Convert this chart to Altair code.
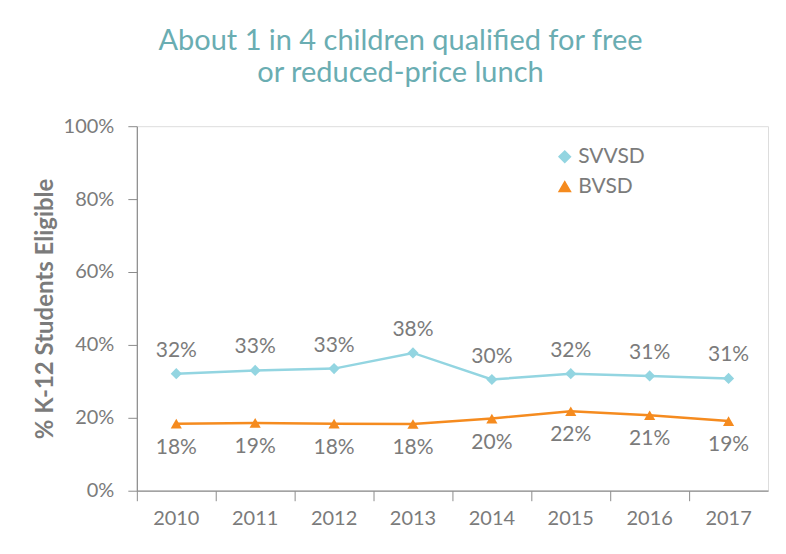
import altair as alt
import pandas as pd

years = ["2010", "2011", "2012", "2013", "2014", "2015", "2016", "2017"]
svvsd = [32.1, 33.0, 33.5, 37.8, 30.5, 32.1, 31.5, 30.8]
bvsd = [18.4, 18.6, 18.4, 18.3, 19.8, 21.8, 20.7, 19.1]
svvsd_labels = ["32%", "33%", "33%", "38%", "30%", "32%", "31%", "31%"]
bvsd_labels = ["18%", "19%", "18%", "18%", "20%", "22%", "21%", "19%"]
series = ["SVVSD", "BVSD"]
colors = ["#93d5e1", "#f58b1f"]
shapes = ["diamond", "triangle-up"]

rows = []
for y, v, l in zip(years, svvsd, svvsd_labels):
    rows.append({"year": y, "district": "SVVSD", "value": v, "label": l})
for y, v, l in zip(years, bvsd, bvsd_labels):
    rows.append({"year": y, "district": "BVSD", "value": v, "label": l})
df = pd.DataFrame(rows)

GRAY = "#7b7b7b"
FONT = "Lato"

x = alt.X(
    "year:O",
    scale=alt.Scale(type="band", paddingInner=0, paddingOuter=0),
    axis=alt.Axis(
        title=None, labelAngle=0, bandPosition=0, tickSize=10, labelPadding=8,
        labelFontSize=20, labelColor=GRAY, labelFont=FONT,
        domainColor="#8c8c8c", tickColor="#8c8c8c", domainWidth=1.2,
    ),
)
y = alt.Y(
    "value:Q",
    scale=alt.Scale(domain=[0, 100]),
    axis=alt.Axis(
        title="% K-12 Students Eligible", values=[0, 20, 40, 60, 80, 100],
        labelExpr="datum.value + '%'", grid=False, tickSize=9, labelPadding=14,
        labelFontSize=20, labelColor=GRAY, labelFont=FONT,
        titleFontSize=24, titleColor=GRAY, titleFont=FONT, titleFontWeight="bold",
        titlePadding=6, domainColor="#8c8c8c", tickColor="#8c8c8c", domainWidth=1.2,
    ),
)

color_scale = alt.Scale(domain=series, range=colors)
shape_scale = alt.Scale(domain=series, range=shapes)
legend = alt.Legend(
    title=None, orient="none", legendX=418, legendY=20, labelFontSize=21,
    labelColor=GRAY, labelFont=FONT, symbolSize=130, rowPadding=8, labelOffset=3,
)

base = alt.Chart(df).encode(x=x, y=y)

line = base.mark_line(strokeWidth=2.5).encode(
    color=alt.Color("district:N", scale=color_scale, legend=legend),
    detail="district:N",
)
pts = base.mark_point(filled=True, size=125, opacity=1).encode(
    color=alt.Color("district:N", scale=color_scale, legend=legend),
    shape=alt.Shape("district:N", scale=shape_scale, legend=legend),
)
txt_sv = base.transform_filter(alt.datum.district == "SVVSD").mark_text(
    dy=-23, fontSize=21, color=GRAY, font=FONT
).encode(text="label:N")
txt_bv = base.transform_filter(alt.datum.district == "BVSD").mark_text(
    dy=24, fontSize=21, color=GRAY, font=FONT
).encode(text="label:N")

chart = alt.layer(line, pts, txt_sv, txt_bv).properties(
    width=632,
    height=365,
    padding={"left": 25, "top": 19, "right": 10, "bottom": 10},
    title=alt.TitleParams(
        ["About 1 in 4 children qualified for free", "or reduced-price lunch"],
        fontSize=29, color="#6aadb2", font=FONT, fontWeight="normal",
        anchor="middle", frame="group", offset=28, lineHeight=32, dx=-52,
    ),
).configure_view(stroke=None).configure(background="white")

chart.save("out.html", embed_options={"renderer": "svg", "actions": False})
